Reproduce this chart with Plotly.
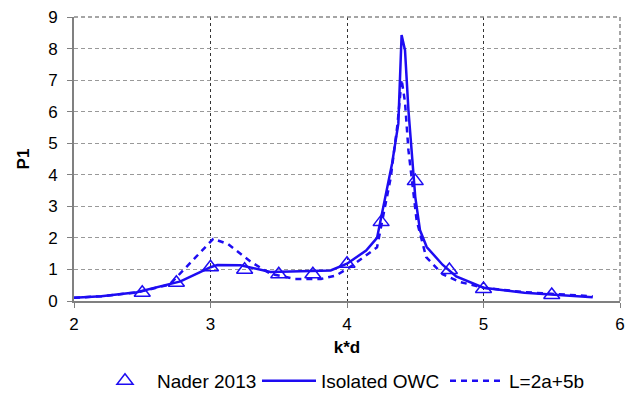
import plotly.graph_objects as go

# Measured data (Nader 2013)
nader_kd = [2.5, 2.75, 3.0, 3.25, 3.5, 3.75, 4.0, 4.25, 4.5, 4.75, 5.0, 5.5]
nader_p1 = [0.26, 0.58, 1.07, 0.99, 0.85, 0.85, 1.18, 2.5, 3.8, 0.98, 0.38, 0.19]

# Isolated OWC
iso_kd = [2.0, 2.2, 2.46, 2.7, 2.78, 2.92, 3.0, 3.05, 3.22, 3.44, 3.6, 3.88, 4.0,
          4.14, 4.22, 4.33, 4.376, 4.40, 4.425, 4.45, 4.50, 4.535, 4.584, 4.70,
          4.80, 5.0, 5.3, 5.6, 5.8]
iso_p1 = [0.10, 0.15, 0.28, 0.55, 0.62, 0.91, 1.07, 1.14, 1.13, 0.92, 0.93, 0.97, 1.18,
          1.6, 2.0, 4.35, 5.62, 8.43, 7.95, 6.05, 3.3, 2.24, 1.71, 1.15,
          0.78, 0.42, 0.26, 0.17, 0.12]

# L=2a+5b
dual_kd = [2.0, 2.2, 2.46, 2.7, 2.85, 3.02, 3.13, 3.30, 3.44, 3.62, 3.81, 3.92, 4.02,
           4.22, 4.32, 4.37, 4.40, 4.425, 4.45, 4.51, 4.58, 4.70, 4.83, 5.0, 5.3,
           5.6, 5.8]
dual_p1 = [0.10, 0.15, 0.27, 0.52, 1.2, 1.97, 1.8, 1.23, 0.86, 0.70, 0.70, 0.81, 1.07,
           1.7, 3.9, 5.6, 7.02, 6.3, 4.78, 2.56, 1.39, 0.85, 0.6, 0.42, 0.28,
           0.2, 0.15]

blue = "#1E0CF2"
font = "Liberation Sans, Arial, sans-serif"
W, H = 631, 393

fig = go.Figure()
fig.add_trace(go.Scatter(
    x=nader_kd, y=nader_p1, mode="markers", name="Nader 2013", legend="legend",
    marker=dict(symbol="triangle-up-open", size=14, color=blue,
                line=dict(width=1.5, color=blue)),
))
fig.add_trace(go.Scatter(
    x=iso_kd, y=iso_p1, mode="lines", name="Isolated OWC", legend="legend2",
    line=dict(color=blue, width=2.5),
))
fig.add_trace(go.Scatter(
    x=dual_kd, y=dual_p1, mode="lines", name="L=2a+5b", legend="legend3",
    line=dict(color=blue, width=2.5, dash="6px,5px"),
))

# dashed frame along the top and right edges of the plot area
fig.add_shape(type="line", xref="paper", yref="paper", x0=0, x1=1, y0=1, y1=1,
              line=dict(color="#888888", width=1.5, dash="4px,3px"))
fig.add_shape(type="line", xref="paper", yref="paper", x0=1, x1=1, y0=0, y1=1,
              line=dict(color="#888888", width=1.5, dash="4px,3px"))

# one legend per entry so each sits at its own spot in the bottom row
legend_y = 1 - 381 / H


def legend_box(left_px):
    return dict(orientation="h", xref="container", yref="container",
                x=left_px / W, xanchor="left", y=legend_y, yanchor="middle",
                font=dict(size=19), itemwidth=54, bgcolor="rgba(0,0,0,0)",
                borderwidth=0)


fig.update_layout(
    width=W, height=H,
    margin=dict(l=74, r=11, t=17, b=92, autoexpand=False),
    paper_bgcolor="white", plot_bgcolor="white",
    font=dict(family=font, size=17, color="black"),
    showlegend=True,
    legend=legend_box(93),
    legend2=legend_box(257),
    legend3=legend_box(445),
)
fig.update_xaxes(
    range=[2, 6], dtick=1, tick0=2,
    showgrid=True, gridcolor="#333333", griddash="3px,3px", gridwidth=1,
    showline=True, linecolor="#808080", linewidth=2,
    ticks="outside", ticklen=5, tickcolor="#808080",
    ticklabelstandoff=2, automargin=False,
    zeroline=False,
    title=dict(text="<b>k*d</b>", font=dict(size=17), standoff=8),
)
fig.update_yaxes(
    range=[0, 9], dtick=1,
    showgrid=True, gridcolor="#999999", griddash="4px,3px", gridwidth=1,
    showline=True, linecolor="#808080", linewidth=2,
    ticks="outside", ticklen=5, tickcolor="#808080",
    ticklabelstandoff=6, automargin=False,
    zeroline=False,
    title=dict(text="<b>P1</b>", font=dict(size=17), standoff=14),
)

fig.write_html("out.html")
